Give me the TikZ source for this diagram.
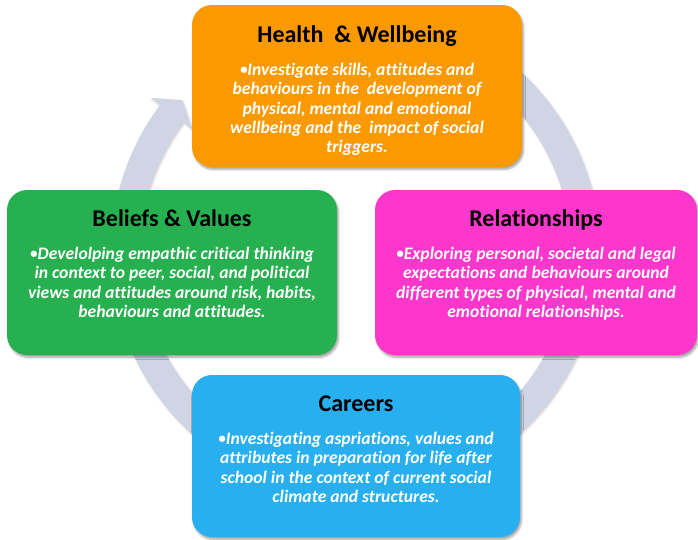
\documentclass[tikz,border=0pt]{standalone}
\usepackage{fontspec}
\setmainfont{Carlito}[Ligatures=NoCommon]
\usetikzlibrary{calc,shadows.blur}

\definecolor{healthfill}{RGB}{250,154,0}
\definecolor{beliefsfill}{RGB}{38,176,80}
\definecolor{relationsfill}{RGB}{253,54,204}
\definecolor{careersfill}{RGB}{40,175,239}
\definecolor{ringfill}{RGB}{207,213,228}

% small bullet set before the first word of each description
\newcommand{\itembullet}{\raisebox{1.2pt}{\fontsize{15}{15}\selectfont\textbullet}}

\tikzset{
  panel/.style={rectangle, rounded corners=20pt, inner sep=0pt,
    blur shadow={shadow xshift=1.5pt, shadow yshift=-2.5pt,
      shadow blur steps=6, shadow opacity=35}},
  paneltitle/.style={anchor=base, inner sep=0pt, text=black,
    font=\fontsize{24}{28}\selectfont\bfseries},
  panelbody/.style={anchor=north, inner sep=0pt, text=white, align=center,
    font=\fontsize{17.6}{19.1}\selectfont\bfseries\itshape},
  ring/.style={fill=ringfill,
    blur shadow={shadow xshift=1pt, shadow yshift=-1.5pt,
      shadow blur steps=5, shadow opacity=20}}
}

\begin{document}
\begin{tikzpicture}[x=1pt,y=1pt]
  \useasboundingbox (0,0) rectangle (698,-539);

  % circular arrow running clockwise behind the four panels
  \coordinate (C) at (355.5,-252);
  \fill[ring] ($(C)+(95:244.5)$)
      arc[start angle=95, end angle=-217, radius=244.5]
      -- ($(C)+(-217:256)$)
      -- ($(C)+(-221.2:230.5)$)
      -- ($(C)+(-217:205)$)
      -- ($(C)+(-217:215.5)$)
      arc[start angle=-217, end angle=95, radius=215.5]
      -- cycle;

  % panels
  \node[panel, fill=healthfill, minimum width=330pt, minimum height=162pt]
    (health) at (357,-86) {};
  \node[panel, fill=beliefsfill, minimum width=330pt, minimum height=165pt]
    (beliefs) at (172,-272.5) {};
  \node[panel, fill=relationsfill, minimum width=322pt, minimum height=165pt]
    (relations) at (536,-272.5) {};
  \node[panel, fill=careersfill, minimum width=328pt, minimum height=162pt]
    (careers) at (356,-456) {};

  % Health & Wellbeing
  \node[paneltitle] (health-title) at ($(health.north)+(0,-38)$)
    {Health\ \ \& Wellbeing};
  \node[panelbody] (health-body) at ($(health.north)+(0,-58.5)$)
    {\itembullet Investigate skills, attitudes and\\
     behaviours in the\ \ development of\\
     physical, mental and emotional\\
     wellbeing and the\ \ impact of social\\
     triggers.};

  % Beliefs & Values
  \node[paneltitle] (beliefs-title) at ($(beliefs.north)+(0,-37)$)
    {Beliefs \& Values};
  \node[panelbody] (beliefs-body) at ($(beliefs.north)+(0,-57.5)$)
    {\itembullet Develolping empathic critical thinking\\
     in context to peer, social, and political\\
     views and attitudes around risk, habits,\\
     behaviours and attitudes.};

  % Relationships
  \node[paneltitle] (relations-title) at ($(relations.north)+(0,-37)$)
    {Relationships};
  \node[panelbody] (relations-body) at ($(relations.north)+(0,-57.5)$)
    {\itembullet Exploring personal, societal and legal\\
     expectations and behaviours around\\
     different types of physical, mental and\\
     emotional relationships.};

  % Careers
  \node[paneltitle] (careers-title) at ($(careers.north)+(0,-37)$)
    {Careers};
  \node[panelbody] (careers-body) at ($(careers.north)+(0,-57.5)$)
    {\itembullet Investigating aspriations, values and\\
     attributes in preparation for life after\\
     school in the context of current social\\
     climate and structures.};
\end{tikzpicture}
\end{document}
